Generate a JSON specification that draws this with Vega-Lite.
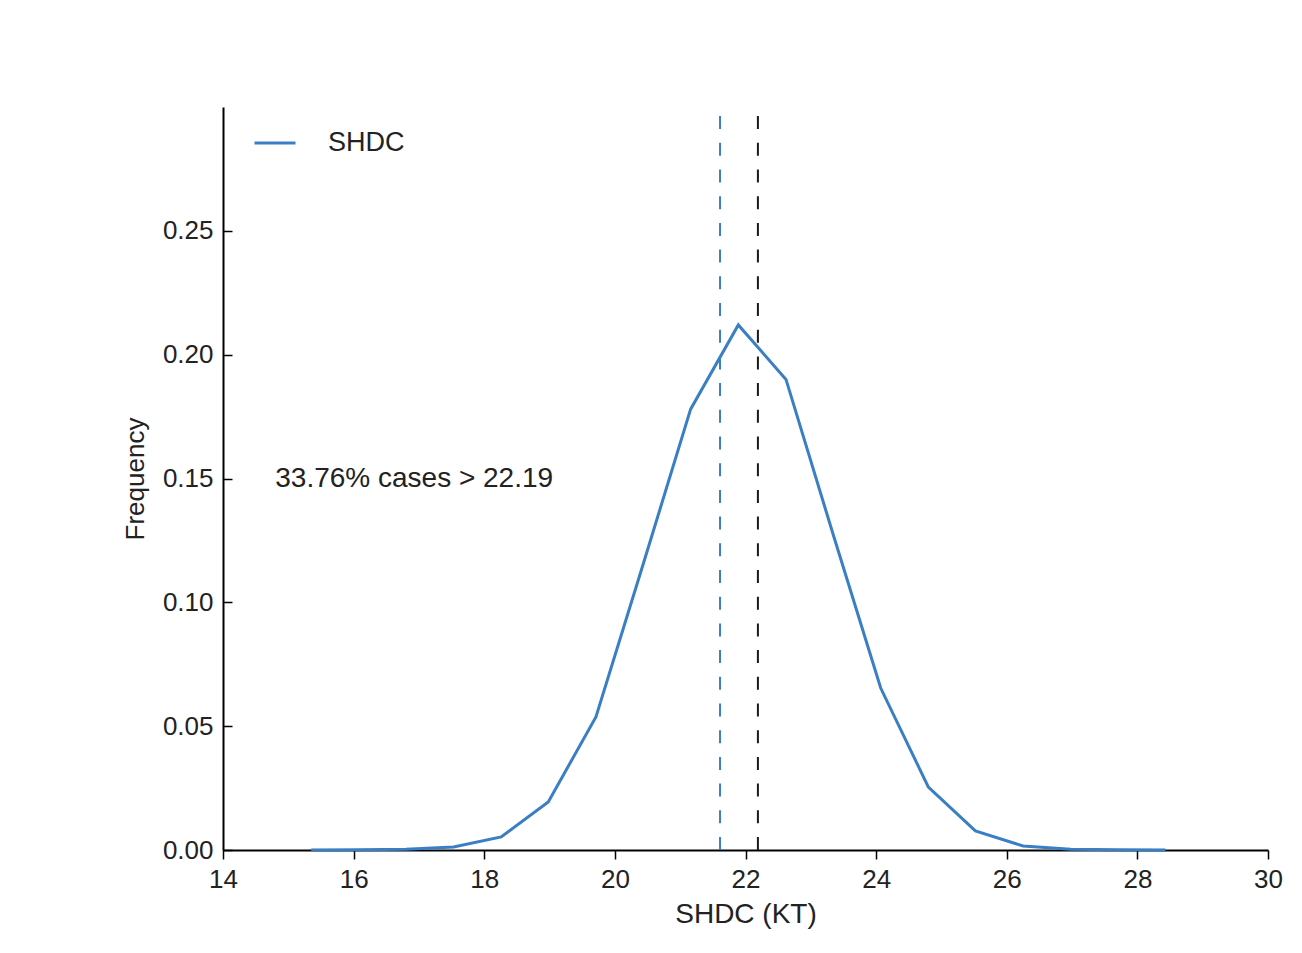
{
  "$schema": "https://vega.github.io/schema/vega-lite/v6.json",
  "width": 1045,
  "height": 743,
  "autosize": {"type": "none"},
  "padding": {"left": 223, "top": 107, "right": 34, "bottom": 103},
  "background": "white",
  "config": {
    "view": {"stroke": null},
    "font": "Liberation Sans",
    "axis": {
      "grid": false,
      "domainColor": "black",
      "domainWidth": 2,
      "tickColor": "black",
      "tickWidth": 1.5,
      "labelFontSize": 26,
      "labelColor": "#222222",
      "titleFontSize": 26,
      "titleFontWeight": "normal",
      "titleColor": "#222222",
      "labelFlush": false,
      "labelOverlap": false
    },
    "legend": {
      "orient": "none",
      "legendX": 30,
      "legendY": 14,
      "padding": 0,
      "symbolType": "stroke",
      "symbolSize": 1681,
      "symbolStrokeWidth": 3,
      "labelFontSize": 27,
      "labelColor": "#222222",
      "labelOffset": 31
    }
  },
  "datasets": {
    "freq": [
      {"series": "SHDC", "shdc": 15.35, "frequency": 0.0000},
      {"series": "SHDC", "shdc": 16.08, "frequency": 0.0001},
      {"series": "SHDC", "shdc": 16.80, "frequency": 0.0003},
      {"series": "SHDC", "shdc": 17.53, "frequency": 0.0012},
      {"series": "SHDC", "shdc": 18.26, "frequency": 0.0053},
      {"series": "SHDC", "shdc": 18.98, "frequency": 0.0194},
      {"series": "SHDC", "shdc": 19.71, "frequency": 0.0537},
      {"series": "SHDC", "shdc": 20.44, "frequency": 0.1160},
      {"series": "SHDC", "shdc": 21.16, "frequency": 0.1780},
      {"series": "SHDC", "shdc": 21.89, "frequency": 0.2120},
      {"series": "SHDC", "shdc": 22.62, "frequency": 0.1900},
      {"series": "SHDC", "shdc": 23.34, "frequency": 0.1276},
      {"series": "SHDC", "shdc": 24.07, "frequency": 0.0654},
      {"series": "SHDC", "shdc": 24.80, "frequency": 0.0254},
      {"series": "SHDC", "shdc": 25.52, "frequency": 0.0077},
      {"series": "SHDC", "shdc": 26.25, "frequency": 0.0016},
      {"series": "SHDC", "shdc": 26.98, "frequency": 0.0003},
      {"series": "SHDC", "shdc": 27.70, "frequency": 0.0001},
      {"series": "SHDC", "shdc": 28.43, "frequency": 0.0000}
    ],
    "marks": [
      {"line": "mean", "shdc": 21.61},
      {"line": "threshold", "shdc": 22.19}
    ],
    "note": [
      {"shdc": 14.8, "frequency": 0.15, "label": "33.76% cases > 22.19"}
    ]
  },
  "layer": [
    {
      "data": {"name": "marks"},
      "transform": [{"filter": "datum.line === 'mean'"}],
      "mark": {"type": "rule", "color": "#3a7fc3", "strokeWidth": 2, "strokeDash": [13, 13.7]},
      "encoding": {
        "x": {"field": "shdc", "type": "quantitative", "scale": {"domain": [14, 30]}},
        "y": {"datum": 0},
        "y2": {"datum": 0.3}
      }
    },
    {
      "data": {"name": "marks"},
      "transform": [{"filter": "datum.line === 'threshold'"}],
      "mark": {"type": "rule", "color": "#1a1a1a", "strokeWidth": 2, "strokeDash": [13, 13.7]},
      "encoding": {
        "x": {"field": "shdc", "type": "quantitative"},
        "y": {"datum": 0},
        "y2": {"datum": 0.3}
      }
    },
    {
      "data": {"name": "freq"},
      "mark": {"type": "line", "strokeWidth": 3},
      "encoding": {
        "x": {
          "field": "shdc",
          "type": "quantitative",
          "scale": {"domain": [14, 30], "nice": false, "zero": false},
          "axis": {
            "title": "SHDC (KT)",
            "titleFontSize": 28,
            "values": [14, 16, 18, 20, 22, 24, 26, 28, 30],
            "format": "d",
            "tickSize": 9,
            "labelPadding": 7,
            "titlePadding": 8
          }
        },
        "y": {
          "field": "frequency",
          "type": "quantitative",
          "scale": {"domain": [0, 0.3], "nice": false},
          "axis": {
            "title": "Frequency",
            "values": [0, 0.05, 0.1, 0.15, 0.2, 0.25],
            "format": ".2f",
            "tickSize": -9,
            "labelPadding": 19,
            "titlePadding": 14
          }
        },
        "color": {
          "field": "series",
          "type": "nominal",
          "scale": {"domain": ["SHDC"], "range": ["#3a7fc3"]},
          "legend": {"title": null}
        }
      }
    },
    {
      "data": {"name": "note"},
      "mark": {"type": "text", "align": "left", "baseline": "middle", "fontSize": 28, "dy": 0, "color": "#222222"},
      "encoding": {
        "x": {"field": "shdc", "type": "quantitative"},
        "y": {"field": "frequency", "type": "quantitative"},
        "text": {"field": "label"}
      }
    }
  ]
}
